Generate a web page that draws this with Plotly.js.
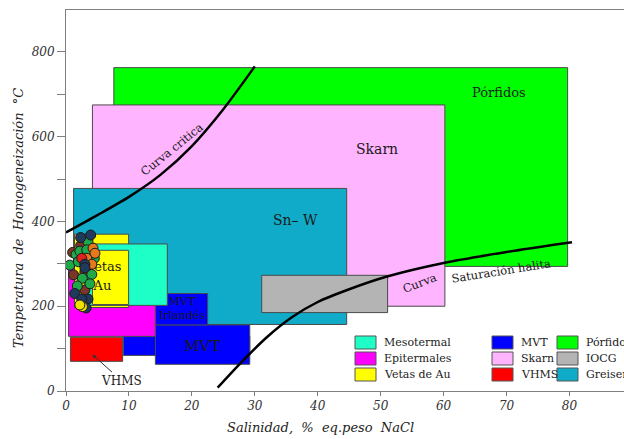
<!DOCTYPE html>
<html>
<head>
<meta charset="utf-8">
<script src="https://cdn.plot.ly/plotly-3.0.1.min.js"></script>
<style>
  html, body { margin: 0; padding: 0; background: #fff; }
  #chart { width: 624px; height: 439px; }
</style>
</head>
<body>
<div id="chart"></div>
<script>
// Deposit fields: salinity range (wt% NaCl eq.) and homogenization temperature range (°C), in drawing order
const fieldNames = ['Pórfidos', 'Skarn', 'Greisen', 'IOCG', 'MVT', 'MVT', 'MVT Irlandés',
                    'Epitermales', 'Vetas de Au', 'Mesotermal', 'Vetas de Au', 'VHMS'];
const salMin  = [7.6, 4.2, 1.2, 31.1, 9.1, 14.2, 14.2, 0.4, 1.35, 3.0, 4.2, 0.7];
const salMax  = [79.7, 60.2, 44.6, 51.1, 29.2, 29.2, 22.5, 14.2, 9.95, 16.1, 9.95, 9.0];
const tempMin = [294, 200, 157, 185, 84, 63, 156, 129, 197, 202, 204, 70];
const tempMax = [763, 675, 478, 273, 130, 156, 230, 300, 370, 347, 332, 127];

// Legend entries (three columns)
const legendNames = ['Mesotermal', 'Epitermales', 'Vetas de Au', 'MVT', 'Skarn', 'VHMS', 'Pórfidos', 'IOCG', 'Greisen'];

// Critical curve of H2O-NaCl
const critSal  = [0, 5, 10, 15, 20, 25, 30];
const critTemp = [374, 415, 458, 510, 578, 665, 766];

// Halite saturation curve
const haliteSal  = [24.1, 28, 32, 36, 40, 45, 51, 60, 70, 80.4];
const haliteTemp = [8, 70, 128, 175, 210, 240, 270, 302, 328, 351];

// Fluid inclusion measurements, grouped by sample
const inclA_sal  = [2.33, 3.92, 3.0, 3.0, 1.4, 3.5, 2.5, 3.2];
const inclA_temp = [362, 368, 299, 291, 230, 217, 217, 196];
const inclB_sal  = [3.5, 1.6, 2.2, 3.3, 0.6, 1.95, 4.5, 2.6, 4.1, 1.8, 3.8];
const inclB_temp = [352, 322, 330, 333, 297, 305, 313, 266, 275, 248, 253];
const inclC_sal  = [4.3, 4.6, 3.3, 4.1];
const inclC_temp = [337, 325, 313, 299];
const inclD_sal  = [2.33, 1.06, 1.2, 3.0, 3.0];
const inclD_temp = [343, 327, 274, 281, 238];
const inclE_sal  = [2.5];
const inclE_temp = [313];
const inclF_sal  = [2.6, 2.2];
const inclF_temp = [199, 203];

const fieldColor = {
  'Pórfidos': '#00ff00', 'Skarn': '#ffb4ff', 'Greisen': '#10abc8', 'IOCG': '#b4b4b4',
  'MVT': '#0000ff', 'MVT Irlandés': '#0000ff', 'Epitermales': '#ff00ff',
  'Vetas de Au': '#ffff00', 'Mesotermal': '#1effc8', 'VHMS': '#ff0000'
};

const serif = 'DejaVu Serif, Liberation Serif, serif';
const edge = '#4a4a4a';

// plot-area geometry helpers (pixel -> paper)
const L = 66, T = 10, W = 558, H = 381;
const pxX = p => (p - L) / W;
const pxY = p => (T + H - p) / H;

const shapes = [];
for (let i = 0; i < fieldNames.length; i++) {
  shapes.push({
    type: 'rect', xref: 'x', yref: 'y', layer: 'below',
    x0: salMin[i], x1: salMax[i], y0: tempMin[i], y1: tempMax[i],
    fillcolor: fieldColor[fieldNames[i]],
    line: { color: edge, width: 1 }
  });
}

// legend boxes and labels
const annotations = [];
const colBoxX = [355, 492, 557];
const rowBoxY = [336, 352, 368];
legendNames.forEach((name, k) => {
  const c = Math.floor(k / 3), r = k % 3;
  shapes.push({
    type: 'rect', xref: 'paper', yref: 'paper', layer: 'above',
    x0: pxX(colBoxX[c]), x1: pxX(colBoxX[c] + 21),
    y0: pxY(rowBoxY[r] + 13), y1: pxY(rowBoxY[r]),
    fillcolor: fieldColor[name], line: { color: '#555', width: 1 }
  });
  annotations.push({
    xref: 'paper', yref: 'paper', x: pxX(colBoxX[c] + 27), y: pxY(rowBoxY[r] + 6.5),
    xanchor: 'left', yanchor: 'middle', showarrow: false, text: name,
    font: { family: serif, size: 11, color: '#222' }
  });
});

// field labels
const lab = (x, y, text, size, extra) => Object.assign({
  x, y, xref: 'x', yref: 'y', text, showarrow: false,
  font: { family: serif, size, color: '#1a1a1a' }
}, extra || {});

annotations.push(lab(68.8, 705, 'Pórfidos', 13));
annotations.push(lab(49.4, 570, 'Skarn', 14));
annotations.push(lab(36.5, 403, 'Sn– W', 14));
annotations.push(lab(18.4, 195, 'MVT<br>Irlandés', 11));
annotations.push(lab(21.6, 106, 'MVT', 15));
annotations.push(lab(16.9, 570, 'Curva critica', 11.5, { textangle: -39 }));
annotations.push(lab(56.2, 255, 'Curva', 11.5, { textangle: -21 }));
annotations.push(lab(69.1, 283, 'Saturación halita', 11.5, { textangle: -9 }));
annotations.push({
  x: 4.2, y: 86, xref: 'x', yref: 'y', text: 'VHMS', showarrow: true,
  ax: 29, ay: 26, arrowhead: 2, arrowsize: 0.8, arrowwidth: 1, arrowcolor: '#333',
  font: { family: serif, size: 12, color: '#1a1a1a' }
});

// axis titles
annotations.push({
  xref: 'paper', yref: 'paper', x: pxX(320), y: pxY(428), showarrow: false,
  text: 'Salinidad,  %  eq.peso  NaCl', xanchor: 'center', yanchor: 'middle',
  font: { family: serif, size: 13, color: '#222', style: 'italic' }
});
annotations.push({
  xref: 'paper', yref: 'paper', x: pxX(18), y: pxY(218), showarrow: false, textangle: -90,
  text: 'Temperatura  de  Homogeneización  °C', xanchor: 'center', yanchor: 'middle',
  font: { family: serif, size: 13, color: '#222', style: 'italic' }
});

const dot = (x, y, color) => ({
  x, y, type: 'scatter', mode: 'markers', hoverinfo: 'skip',
  marker: { size: 10, color, line: { color: '#1a1a1a', width: 1 } }
});

const traces = [
  { x: critSal, y: critTemp, type: 'scatter', mode: 'lines',
    line: { color: '#000', width: 2.5, shape: 'spline', smoothing: 0.8 }, hoverinfo: 'skip' },
  { x: haliteSal, y: haliteTemp, type: 'scatter', mode: 'lines',
    line: { color: '#000', width: 2.5, shape: 'spline', smoothing: 0.8 }, hoverinfo: 'skip' },
  { x: [6.0, 5.8], y: [290, 245], type: 'scatter', mode: 'text', text: ['Vetas', 'Au'],
    textfont: { family: serif, size: 13, color: '#1a1a1a' }, hoverinfo: 'skip' },
  dot(inclD_sal, inclD_temp, '#7a3626'),
  dot(inclB_sal, inclB_temp, '#1ea84a'),
  dot(inclC_sal, inclC_temp, '#e6781e'),
  dot(inclE_sal, inclE_temp, '#e02020'),
  dot(inclA_sal, inclA_temp, '#1f3a5c'),
  dot(inclF_sal, inclF_temp, '#f0e000')
];

const tickFont = { family: serif, size: 12, color: '#333', style: 'italic' };

const layout = {
  width: 624, height: 439,
  margin: { l: L, r: 624 - L - W, t: T, b: 439 - T - H },
  paper_bgcolor: '#fff', plot_bgcolor: '#fff',
  showlegend: false,
  xaxis: {
    range: [0, 88.66], showgrid: false, zeroline: false,
    showline: true, linecolor: '#808080', linewidth: 1, mirror: true,
    ticks: 'outside', ticklen: 4, tickcolor: '#808080',
    tickvals: [0, 10, 20, 30, 40, 50, 60, 70, 80],
    tickfont: tickFont
  },
  yaxis: {
    range: [0, 899], showgrid: false, zeroline: false,
    showline: true, linecolor: '#808080', linewidth: 1,
    ticks: 'outside', ticklen: 8, tickcolor: '#808080',
    tickvals: [0, 100, 200, 300, 400, 500, 600, 700, 800],
    ticktext: ['0', '', '200', '', '400', '', '600', '', '800'],
    tickfont: tickFont
  },
  shapes, annotations
};

Plotly.newPlot('chart', traces, layout, { staticPlot: true, displayModeBar: false });
</script>
</body>
</html>
